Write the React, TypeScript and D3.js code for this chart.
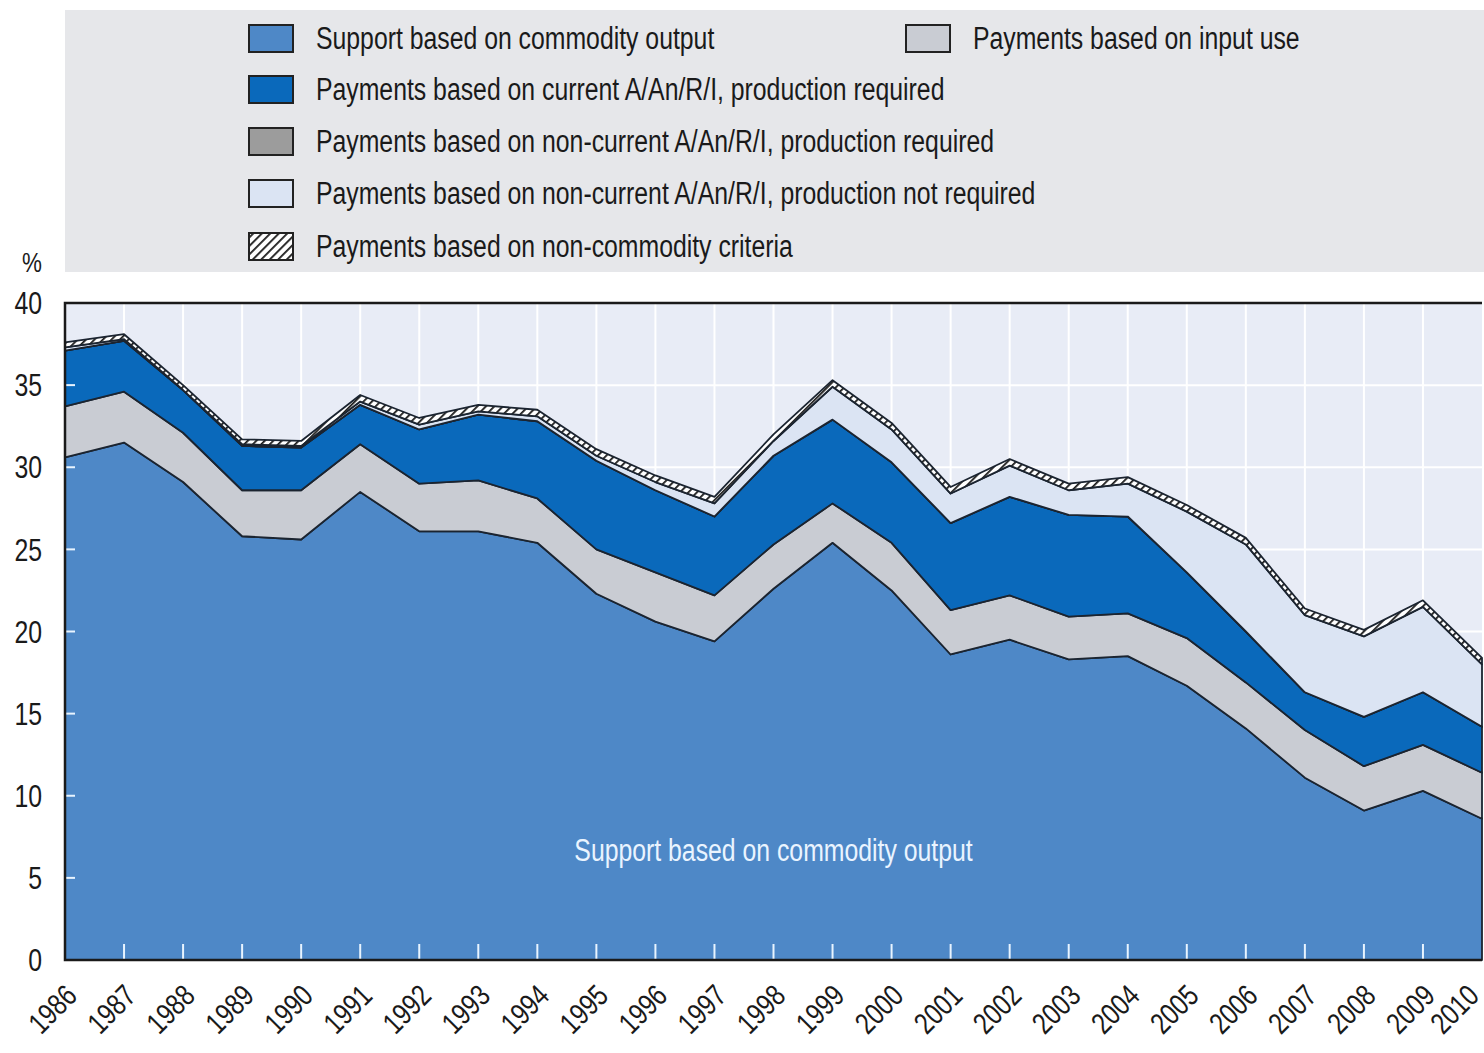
import { useEffect, useRef } from 'react';
import * as d3 from 'd3';

const years = [
  1986, 1987, 1988, 1989, 1990, 1991, 1992, 1993, 1994, 1995, 1996, 1997, 1998,
  1999, 2000, 2001, 2002, 2003, 2004, 2005, 2006, 2007, 2008, 2009, 2010,
];

// % of gross farm receipts, stacked bottom to top
const commodityOutput = [30.6, 31.5, 29.1, 25.8, 25.6, 28.5, 26.1, 26.1, 25.4, 22.3, 20.6, 19.4, 22.6, 25.4, 22.5, 18.6, 19.5, 18.3, 18.5, 16.7, 14.1, 11.1, 9.1, 10.3, 8.6];
const inputUse = [3.1, 3.1, 3.0, 2.8, 3.0, 2.9, 2.9, 3.1, 2.7, 2.7, 3.0, 2.8, 2.7, 2.4, 2.9, 2.7, 2.7, 2.6, 2.6, 2.9, 2.8, 2.9, 2.7, 2.8, 2.8];
const currentProdReq = [3.4, 3.1, 2.6, 2.7, 2.6, 2.4, 3.3, 4.0, 4.7, 5.4, 5.0, 4.8, 5.4, 5.1, 4.9, 5.3, 6.0, 6.2, 5.9, 4.0, 3.1, 2.3, 3.0, 3.2, 2.8];
const nonCurrentProdReq = [0, 0, 0, 0, 0, 0, 0, 0, 0, 0, 0, 0, 0, 0, 0, 0, 0, 0, 0, 0, 0, 0, 0, 0, 0];
const nonCurrentNoProd = [0.2, 0.1, 0.0, 0.1, 0.1, 0.2, 0.3, 0.2, 0.3, 0.3, 0.5, 0.8, 0.9, 2.0, 2.0, 1.8, 1.9, 1.5, 2.0, 3.7, 5.3, 4.7, 4.9, 5.2, 3.8];
const nonCommodity = [0.3, 0.3, 0.3, 0.3, 0.3, 0.4, 0.4, 0.4, 0.4, 0.4, 0.4, 0.4, 0.4, 0.4, 0.4, 0.4, 0.4, 0.4, 0.4, 0.4, 0.4, 0.4, 0.4, 0.4, 0.4];

const yTicks = [0, 5, 10, 15, 20, 25, 30, 35, 40];

const series = [
  { key: 'commodity', label: 'Support based on commodity output', values: commodityOutput, fill: '#4e88c7' },
  { key: 'input', label: 'Payments based on input use', values: inputUse, fill: '#c9ccd3' },
  { key: 'current', label: 'Payments based on current A/An/R/I, production required', values: currentProdReq, fill: '#0a69bb' },
  { key: 'nonCurrentReq', label: 'Payments based on non-current A/An/R/I, production required', values: nonCurrentProdReq, fill: '#9c9c9c' },
  { key: 'nonCurrentNot', label: 'Payments based on non-current A/An/R/I, production not required', values: nonCurrentNoProd, fill: '#dbe4f3' },
  { key: 'nonCommodity', label: 'Payments based on non-commodity criteria', values: nonCommodity, fill: 'url(#hatch)' },
];

// legend placement: [series key, column, row]
const legendSlots: [string, number, number][] = [
  ['commodity', 0, 0],
  ['input', 1, 0],
  ['current', 0, 1],
  ['nonCurrentReq', 0, 2],
  ['nonCurrentNot', 0, 3],
  ['nonCommodity', 0, 4],
];

const FONT = "'Liberation Sans', Arial, sans-serif";
const NARROW = 0.8; // squeeze to mimic a condensed face

const App = () => {
  const svgRef = useRef<SVGSVGElement>(null);

  useEffect(() => {
    if (!svgRef.current) return;
    const svg = d3.select(svgRef.current);
    svg.selectAll('*').remove();

    const width = 1484;
    const plot = { left: 65, right: 1482, top: 303, bottom: 960 };

    const label = (
      parent: d3.Selection<any, unknown, null, undefined>,
      tx: string,
      str: string,
      opts: { anchor?: string; size?: number; fill?: string } = {},
    ) => {
      parent.append('text')
        .attr('transform', `${tx} scale(${NARROW},1)`)
        .attr('dy', '0.36em')
        .attr('text-anchor', opts.anchor || 'start')
        .attr('font-family', FONT)
        .attr('font-size', opts.size || 31)
        .attr('fill', opts.fill || '#1a1a1a')
        .text(str);
    };

    const defs = svg.append('defs');
    const pat = defs.append('pattern')
      .attr('id', 'hatch')
      .attr('patternUnits', 'userSpaceOnUse')
      .attr('width', 6)
      .attr('height', 6)
      .attr('patternTransform', 'rotate(45)');
    pat.append('rect').attr('width', 6).attr('height', 6).attr('fill', '#ffffff');
    pat.append('line').attr('x1', 0).attr('y1', 0).attr('x2', 0).attr('y2', 6)
      .attr('stroke', '#1a1a1a').attr('stroke-width', 3.6);

    const x = d3.scaleLinear()
      .domain([years[0], years[years.length - 1]])
      .range([plot.left, plot.right]);
    const y = d3.scaleLinear().domain([0, 40]).range([plot.bottom, plot.top]);

    // Legend panel
    svg.append('rect')
      .attr('x', 65).attr('y', 10).attr('width', width - 65).attr('height', 262)
      .attr('fill', '#e6e7ea');

    const colX = [248, 905];
    const rowY = [38, 89, 141, 193, 246];
    legendSlots.forEach(([key, col, row]) => {
      const s = series.find(d => d.key === key)!;
      const lg = svg.append('g').attr('transform', `translate(${colX[col]},${rowY[row]})`);
      lg.append('rect')
        .attr('x', 1).attr('y', -13).attr('width', 44).attr('height', 27)
        .attr('fill', s.fill)
        .attr('stroke', '#222').attr('stroke-width', 2);
      label(lg, 'translate(68,0)', s.label);
    });

    // Plot background + grid
    svg.append('rect')
      .attr('x', plot.left).attr('y', plot.top)
      .attr('width', plot.right - plot.left).attr('height', plot.bottom - plot.top)
      .attr('fill', '#e8ecf6');

    const grid = svg.append('g').attr('stroke', '#ffffff').attr('stroke-width', 2);
    grid.selectAll('.vg').data(years.slice(1, -1)).enter().append('line')
      .attr('x1', d => x(d)).attr('x2', d => x(d))
      .attr('y1', plot.top).attr('y2', plot.bottom);
    grid.selectAll('.hg').data(yTicks.slice(1, -1)).enter().append('line')
      .attr('x1', plot.left).attr('x2', plot.right)
      .attr('y1', d => y(d)).attr('y2', d => y(d));

    // Stacked areas
    const table = years.map((yr, i) => {
      const row: Record<string, number> = { year: yr };
      series.forEach(s => { row[s.key] = s.values[i]; });
      return row;
    });
    const stack = d3.stack<Record<string, number>>().keys(series.map(s => s.key));
    const layers = stack(table);

    const area = d3.area<d3.SeriesPoint<Record<string, number>>>()
      .x(d => x(d.data.year))
      .y0(d => y(d[0]))
      .y1(d => y(d[1]));

    svg.append('g').selectAll('path').data(layers).enter().append('path')
      .attr('d', area)
      .attr('fill', (_d, i) => series[i].fill)
      .attr('stroke', '#1b2430')
      .attr('stroke-width', 1.8)
      .attr('stroke-linejoin', 'round');

    // Inner white ticks
    const ticks = svg.append('g').attr('stroke', '#e8f4ff').attr('stroke-width', 2);
    ticks.selectAll('.xt').data(years.slice(1, -1)).enter().append('line')
      .attr('x1', d => x(d)).attr('x2', d => x(d))
      .attr('y1', plot.bottom - 16).attr('y2', plot.bottom);
    ticks.selectAll('.yt').data(yTicks.slice(1, -1)).enter().append('line')
      .attr('x1', plot.left).attr('x2', plot.left + 10)
      .attr('y1', d => y(d)).attr('y2', d => y(d));

    // Frame
    svg.append('path')
      .attr('d', `M${plot.right},${plot.top}H${plot.left}V${plot.bottom}H${plot.right}`)
      .attr('fill', 'none').attr('stroke', '#1a1a1a').attr('stroke-width', 2.5);

    // In-plot label
    label(svg, `translate(${x(1998)},${y(6.7)})`, 'Support based on commodity output', {
      anchor: 'middle', fill: '#eaf4ff',
    });

    // Y axis labels
    const yl = svg.append('g');
    yTicks.forEach(t => label(yl, `translate(42,${y(t)})`, String(t), { anchor: 'end' }));
    label(svg, 'translate(32,262)', '%', { anchor: 'middle', size: 28 });

    // X axis labels
    const xl = svg.append('g');
    years.forEach((yr, i) => {
      const off = i === years.length - 1 ? -9 : 6;
      label(xl, `translate(${x(yr) + off},${plot.bottom + 30}) rotate(-45)`, String(yr), {
        anchor: 'end', size: 30,
      });
    });
  }, []);

  return (
    <svg
      ref={svgRef}
      width={1484}
      height={1053}
      style={{ position: 'absolute', left: 0, top: 0, background: '#ffffff' }}
    />
  );
};

export default App;
